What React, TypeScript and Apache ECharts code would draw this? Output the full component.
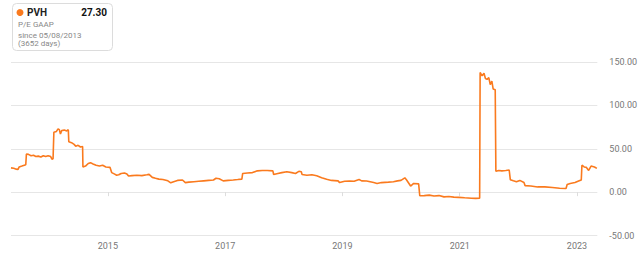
import React, { useEffect, useRef } from "react";
import * as echarts from "echarts";

const dates: string[] = [
  "2013-05-08","2013-05-25","2013-06-10","2013-06-20","2013-06-28","2013-07-15","2013-07-30","2013-08-08","2013-08-12","2013-08-25",
  "2013-09-10","2013-09-25","2013-10-10","2013-10-25","2013-11-10","2013-11-25","2013-12-10","2013-12-25","2014-01-10","2014-01-18",
  "2014-01-25","2014-01-30","2014-02-15","2014-02-25","2014-03-05","2014-03-12","2014-03-20","2014-04-05","2014-04-20","2014-04-30",
  "2014-05-03","2014-05-20","2014-06-05","2014-06-15","2014-06-30","2014-07-15","2014-07-28","2014-07-30","2014-08-15","2014-09-01",
  "2014-09-15","2014-10-01","2014-10-20","2014-11-10","2014-11-30","2014-12-20","2015-01-15","2015-01-25","2015-02-10","2015-02-25",
  "2015-03-10","2015-03-25","2015-04-15","2015-04-30","2015-05-10","2015-06-01","2015-07-01","2015-08-01","2015-09-01","2015-09-15",
  "2015-10-05","2015-10-25","2015-11-15","2015-12-10","2016-01-10","2016-01-28","2016-02-15","2016-03-10","2016-04-10","2016-04-28",
  "2016-05-20","2016-06-20","2016-07-20","2016-08-20","2016-09-20","2016-10-20","2016-11-05","2016-11-25","2016-12-20","2017-01-20",
  "2017-02-20","2017-03-20","2017-04-15","2017-04-20","2017-05-20","2017-06-20","2017-07-20","2017-08-20","2017-09-20","2017-10-25",
  "2017-10-30","2017-11-25","2017-12-20","2018-01-20","2018-02-20","2018-03-15","2018-04-05","2018-04-20","2018-04-25","2018-05-25",
  "2018-06-25","2018-07-25","2018-08-25","2018-09-25","2018-10-25","2018-12-05","2018-12-15","2019-01-15","2019-02-15","2019-03-15",
  "2019-04-15","2019-05-01","2019-06-01","2019-07-15","2019-08-05","2019-09-01","2019-10-15","2019-11-15","2019-12-10","2020-01-01",
  "2020-01-25","2020-02-05","2020-03-01","2020-03-20","2020-04-20","2020-04-27","2020-05-25","2020-06-25","2020-07-25","2020-08-25",
  "2020-09-25","2020-10-25","2020-11-25","2020-12-25","2021-02-01","2021-03-15","2021-04-10","2021-05-05","2021-05-08","2021-05-20",
  "2021-06-01","2021-06-10","2021-06-20","2021-07-01","2021-07-10","2021-07-20","2021-07-28","2021-08-10","2021-08-14","2021-09-01",
  "2021-09-20","2021-10-15","2021-11-05","2021-11-12","2021-12-01","2021-12-20","2022-01-10","2022-02-05","2022-02-12","2022-03-20",
  "2022-05-01","2022-06-15","2022-08-01","2022-09-15","2022-10-25","2022-11-01","2022-11-20","2022-12-20","2023-01-15","2023-01-28",
  "2023-02-01","2023-02-15","2023-03-01","2023-03-15","2023-03-30","2023-04-20","2023-05-05"
];

const peGaap: number[] = [
  28,27.5,26.5,26,29,30,31,31.5,44,43.5,
  42,42.5,41,41.5,40.5,42,41,42,41,38,
  38.5,69,70,73,72,67,71,71.5,70.5,72,
  58,57,55,53,54,52,52.5,29,30,33,
  34,32.5,31,30,31,29,28.5,22.5,21,19.5,
  20,21.5,22,21,18.5,19,19.5,19,20,20.5,
  17,16,15,14.5,13,10.7,12,13.5,14,11,
  11.5,12,12.5,13,13.5,14,16,15.5,13,13.5,
  14,14.5,15,21.5,22,22.5,24.5,25,25,24.5,
  20.3,21.5,22.5,23.5,22.5,21.5,24,23.5,20.3,19.5,
  20,18.8,16.5,14.8,13.5,13,11,12.5,12.8,12.5,
  14.5,13,12.8,11,10,11,11.5,12,13,13.5,
  16.5,14,7,10,9.5,-4.2,-4,-3.5,-4.5,-4,
  -5.5,-5,-5.8,-6,-6.5,-7,-7.2,-7,138,134,
  137,131,130,132,124,128,119,118,24,25,
  24.5,25,25.5,14.4,13,12,13.5,11,7.5,7,
  6,6,5.4,4.5,4.2,8.8,10,11,13,14,
  31,29,28.5,25,30,29,27.3
];

const yearTicks: string[] = ["2015-01-01", "2017-01-01", "2019-01-01", "2021-01-01", "2023-01-01"];
const startDate = "2013-05-08";
const endDate = "2023-05-08";

const ticker = "PVH";
const lastValue = "27.30";
const metricName = "P/E GAAP";
const sinceText = "since 05/08/2013";
const daysText = "(3652 days)";

const ORANGE = "#fa7a1e";
const FONT = "Roboto, Arial, sans-serif";

const ts = (d: string) => new Date(d + "T00:00:00Z").getTime();

export default function App() {
  const ref = useRef<HTMLDivElement>(null);
  useEffect(() => {
    if (!ref.current) return;
    const chart = echarts.init(ref.current, null, { renderer: "svg" });
    const tickVals = yearTicks.map(ts);
    chart.setOption({
      animation: false,
      backgroundColor: "#ffffff",
      grid: { left: 11, right: 39, top: 62, bottom: 25.5, containLabel: false },
      xAxis: {
        type: "value",
        min: ts(startDate),
        max: ts(endDate),
        axisLine: { show: false },
        axisTick: {
          show: true,
          customValues: tickVals,
          length: 4,
          lineStyle: { color: "#dddddd" },
        },
        axisLabel: {
          customValues: tickVals,
          formatter: (v: number) => String(new Date(v).getUTCFullYear()),
          color: "#777777",
          fontSize: 9,
          fontFamily: FONT,
          margin: 6,
        },
        splitLine: { show: false },
      },
      yAxis: {
        type: "value",
        position: "right",
        min: -50,
        max: 150,
        interval: 50,
        axisLine: { show: false },
        axisTick: { show: false },
        axisLabel: {
          formatter: (v: number) => v.toFixed(2),
          color: "#777777",
          fontSize: 9,
          fontFamily: FONT,
          margin: 12,
        },
        splitLine: { lineStyle: { color: "#e6e6e6", width: 1 } },
      },
      series: [
        {
          type: "line",
          data: dates.map((d, i) => [ts(d), peGaap[i]]),
          showSymbol: false,
          symbol: "none",
          lineStyle: { color: ORANGE, width: 1.6 },
          itemStyle: { color: ORANGE },
        },
      ],
      graphic: [
        {
          type: "rect",
          shape: { x: 12.5, y: 3.5, width: 100, height: 47, r: 4 },
          style: { fill: "#ffffff", stroke: "#dcdcdc", lineWidth: 1 },
          z: 10,
        },
        {
          type: "circle",
          shape: { cx: 20, cy: 12.5, r: 3.5 },
          style: { fill: ORANGE },
          z: 11,
        },
        {
          type: "text",
          x: 27,
          y: 12.5,
          style: { text: ticker, fill: "#222222", font: `bold 10px ${FONT}`, verticalAlign: "middle" },
          z: 11,
        },
        {
          type: "text",
          x: 107,
          y: 12.5,
          style: { text: lastValue, fill: "#111111", font: `bold 10px ${FONT}`, align: "right", verticalAlign: "middle" },
          z: 11,
        },
        {
          type: "text",
          x: 18,
          y: 24.5,
          style: { text: metricName, fill: "#888888", font: `8px ${FONT}`, verticalAlign: "middle" },
          z: 11,
        },
        {
          type: "text",
          x: 18,
          y: 35,
          style: { text: sinceText, fill: "#888888", font: `8px ${FONT}`, verticalAlign: "middle" },
          z: 11,
        },
        {
          type: "text",
          x: 18,
          y: 43.5,
          style: { text: daysText, fill: "#888888", font: `8px ${FONT}`, verticalAlign: "middle" },
          z: 11,
        },
      ],
    });
    return () => chart.dispose();
  }, []);
  return (
    <div
      ref={ref}
      style={{ position: "fixed", left: 0, top: 0, width: 640, height: 261 }}
    />
  );
}
